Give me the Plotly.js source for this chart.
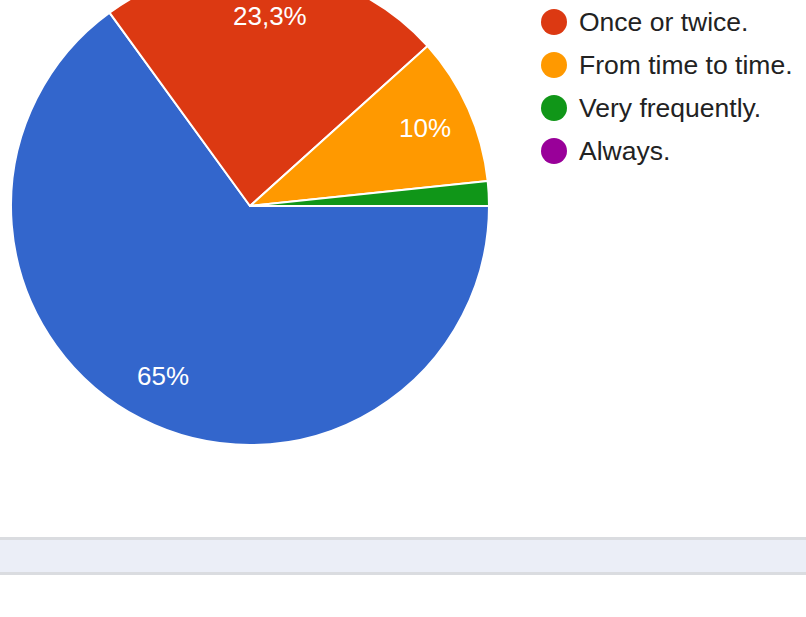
<!DOCTYPE html>
<html>
<head>
<meta charset="utf-8">
<script src="https://cdn.plot.ly/plotly-3.0.1.min.js"></script>
<style>
html,body{margin:0;padding:0;overflow:hidden;background:#fff;width:806px;height:617px;}
#chart{position:absolute;left:0;top:-50px;width:806px;height:667px;}
</style>
</head>
<body>
<div id="chart"></div>
<script>
// Data (responses per answer)
const categories = ["Never.", "Once or twice.", "From time to time.", "Very frequently.", "Always."];
const counts = [39, 14, 6, 1, 0];
const colors = ["#3366cc", "#dc3912", "#ff9900", "#109618", "#990099"];

const W = 806, H = 667, OFF = 50;
const px = x => x / W;
const py = y => (H - (y + OFF)) / H;
const CX = 250, CY = 206, R = 239;
const FONT = "Liberation Sans, Arial, sans-serif";

const total = counts.reduce((a, b) => a + b, 0);

const pie = {
  type: "pie",
  labels: categories,
  values: counts,
  sort: false,
  direction: "clockwise",
  rotation: 90,
  marker: {colors: colors, line: {color: "#ffffff", width: 2}},
  textinfo: "none",
  hoverinfo: "label+percent",
  showlegend: false,
  domain: {x: [px(CX - R), px(CX + R)], y: [py(CY + R), py(CY - R)]}
};

const fmtPct = v => {
  const p = Math.round(v * 1000) / 10;
  return String(p).replace(".", ",") + "%";
};

const shapes = [{
  type: "rect", xref: "paper", yref: "paper",
  x0: px(-10), x1: px(820), y0: py(573.5), y1: py(538.5),
  line: {color: "#dadce0", width: 3}, fillcolor: "#ebeef7", layer: "below"
}];
const annotations = [];

// slice labels at 0.8 R along each slice's bisector
let cum = 0;
counts.forEach((c, i) => {
  const frac = c / total;
  const mid = 2 * Math.PI * (cum + c / 2) / total;
  cum += c;
  if (frac < 0.05) return;
  annotations.push({
    xref: "paper", yref: "paper",
    x: px(CX + 0.8 * R * Math.cos(mid)), y: py(CY + 0.8 * R * Math.sin(mid)),
    xanchor: "center", yanchor: "middle", showarrow: false, text: fmtPct(frac),
    font: {family: FONT, size: 26, color: "#ffffff"}
  });
});

// legend with round markers
categories.forEach((c, i) => {
  const cy = -21 + 43 * i;
  const r = 13;
  shapes.push({
    type: "circle", xref: "paper", yref: "paper",
    x0: px(554 - r), x1: px(554 + r), y0: py(cy + r), y1: py(cy - r),
    fillcolor: colors[i], line: {width: 0}
  });
  if (cy < 0) return; // entry above the visible area
  annotations.push({
    xref: "paper", yref: "paper", x: px(577), y: py(cy),
    xanchor: "left", yanchor: "middle", showarrow: false, text: c,
    font: {family: FONT, size: 26.5, color: "#222222"}
  });
});

const layout = {
  width: W, height: H,
  margin: {l: 0, r: 0, t: 0, b: 0},
  paper_bgcolor: "#ffffff",
  showlegend: false,
  shapes: shapes,
  annotations: annotations
};

Plotly.newPlot("chart", [pie], layout, {displayModeBar: false, staticPlot: true});
</script>
</body>
</html>
